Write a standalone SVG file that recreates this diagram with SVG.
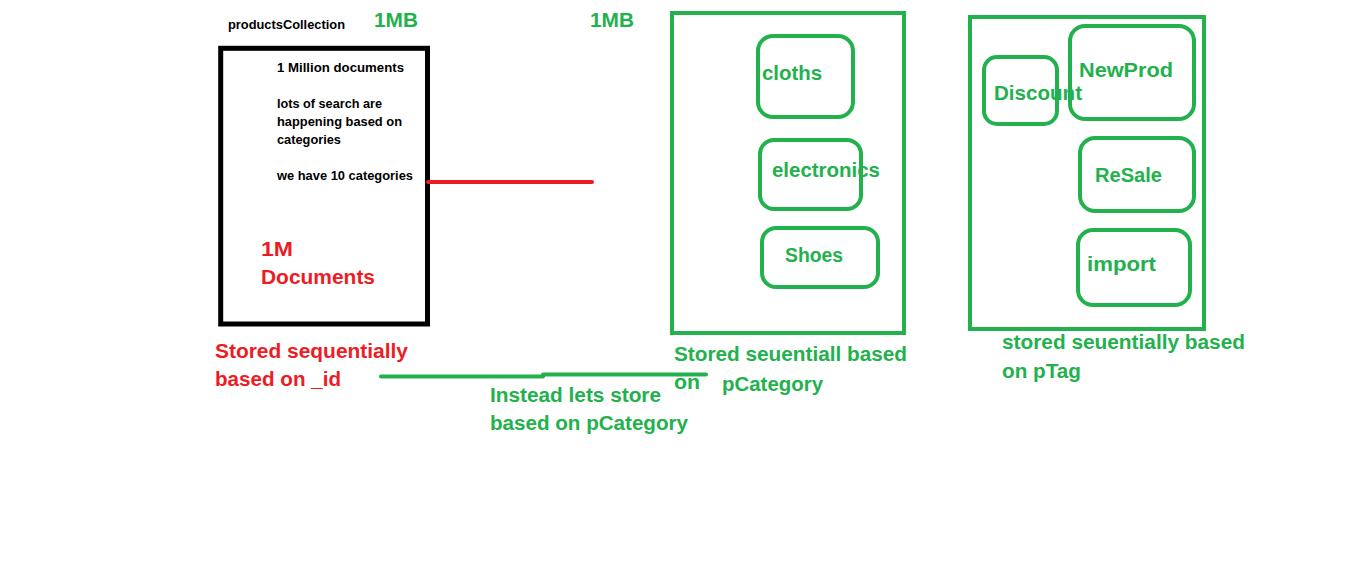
<svg xmlns="http://www.w3.org/2000/svg" width="1356" height="572" viewBox="0 0 1356 572">
<style>
text{font-family:"Liberation Sans",Arial,sans-serif;font-weight:bold}
.s{font-size:13px;fill:#000}
.g{font-size:19.5px;fill:#22B14C}
.r{font-size:19.5px;fill:#ED1C24}
.gbox{fill:none;stroke:#22B14C;stroke-width:4}
.rbox{fill:none;stroke:#22B14C;stroke-width:4}
</style>
<rect width="1356" height="572" fill="#fff"/>
<g id="labels-top">
<text class="s" x="228" y="29" textLength="117" lengthAdjust="spacingAndGlyphs">productsCollection</text>
<text class="g" x="374" y="26.5" textLength="44" lengthAdjust="spacingAndGlyphs">1MB</text>
<text class="g" x="590" y="26.5" textLength="44" lengthAdjust="spacingAndGlyphs">1MB</text>
</g>
<g id="productsCollection">
<rect x="220.7" y="48.3" width="206.8" height="275.7" fill="none" stroke="#000" stroke-width="5"/>
<text class="s" x="277" y="72" textLength="127" lengthAdjust="spacingAndGlyphs">1 Million documents</text>
<text class="s" x="277" y="108" textLength="105" lengthAdjust="spacingAndGlyphs">lots of search are</text>
<text class="s" x="277" y="126" textLength="125" lengthAdjust="spacingAndGlyphs">happening based on</text>
<text class="s" x="277" y="144" textLength="64" lengthAdjust="spacingAndGlyphs">categories</text>
<text class="s" x="277" y="180" textLength="136" lengthAdjust="spacingAndGlyphs">we have 10 categories</text>
<text class="r" x="261" y="256" textLength="32" lengthAdjust="spacingAndGlyphs">1M</text>
<text class="r" x="261" y="284" textLength="114" lengthAdjust="spacingAndGlyphs">Documents</text>
</g>
<g id="label-id">
<text class="r" x="215" y="358" textLength="193" lengthAdjust="spacingAndGlyphs">Stored sequentially</text>
<text class="r" x="215" y="386" textLength="126" lengthAdjust="spacingAndGlyphs">based on _id</text>
</g>
<g id="connectors">
<line x1="428" y1="182" x2="592" y2="182" stroke="#ED1C24" stroke-width="4" stroke-linecap="round"/>
<line x1="381" y1="376.5" x2="543" y2="376.5" stroke="#22B14C" stroke-width="4" stroke-linecap="round"/>
<line x1="543" y1="374.5" x2="706" y2="374.5" stroke="#22B14C" stroke-width="4" stroke-linecap="round"/>
</g>
<g id="label-instead">
<text class="g" x="490" y="402" textLength="171" lengthAdjust="spacingAndGlyphs">Instead lets store</text>
<text class="g" x="490" y="430" textLength="198" lengthAdjust="spacingAndGlyphs">based on pCategory</text>
</g>
<g id="pCategoryCollection">
<rect class="gbox" x="672" y="13" width="232" height="320"/>
<rect class="rbox" x="758" y="36" width="95" height="81" rx="15"/>
<text class="g" x="762" y="80" textLength="60" lengthAdjust="spacingAndGlyphs">cloths</text>
<rect class="rbox" x="760" y="140" width="101" height="69" rx="14"/>
<text class="g" x="772" y="177" textLength="108" lengthAdjust="spacingAndGlyphs">electronics</text>
<rect class="rbox" x="762" y="228" width="116" height="59" rx="14"/>
<text class="g" x="785" y="262" textLength="58" lengthAdjust="spacingAndGlyphs">Shoes</text>
</g>
<g id="label-pCategory">
<text class="g" x="674" y="361" textLength="233" lengthAdjust="spacingAndGlyphs">Stored seuentiall based</text>
<text class="g" x="674" y="389" textLength="26" lengthAdjust="spacingAndGlyphs">on</text>
<text class="g" x="722" y="391" textLength="101" lengthAdjust="spacingAndGlyphs">pCategory</text>
</g>
<g id="pTagCollection">
<rect class="gbox" x="970" y="17" width="234" height="312"/>
<rect class="rbox" x="984" y="57" width="73" height="67" rx="13"/>
<text class="g" x="994" y="100" textLength="88" lengthAdjust="spacingAndGlyphs">Discount</text>
<rect class="rbox" x="1070" y="26" width="124" height="93" rx="15"/>
<text class="g" x="1079" y="77" textLength="94" lengthAdjust="spacingAndGlyphs">NewProd</text>
<rect class="rbox" x="1080" y="138" width="114" height="73" rx="15"/>
<text class="g" x="1095" y="182" textLength="67" lengthAdjust="spacingAndGlyphs">ReSale</text>
<rect class="rbox" x="1078" y="230" width="112" height="75" rx="15"/>
<text class="g" x="1087" y="271" textLength="69" lengthAdjust="spacingAndGlyphs">import</text>
</g>
<g id="label-pTag">
<text class="g" x="1002" y="349" textLength="243" lengthAdjust="spacingAndGlyphs">stored seuentially based</text>
<text class="g" x="1002" y="378" textLength="79" lengthAdjust="spacingAndGlyphs">on pTag</text>
</g>
</svg>
